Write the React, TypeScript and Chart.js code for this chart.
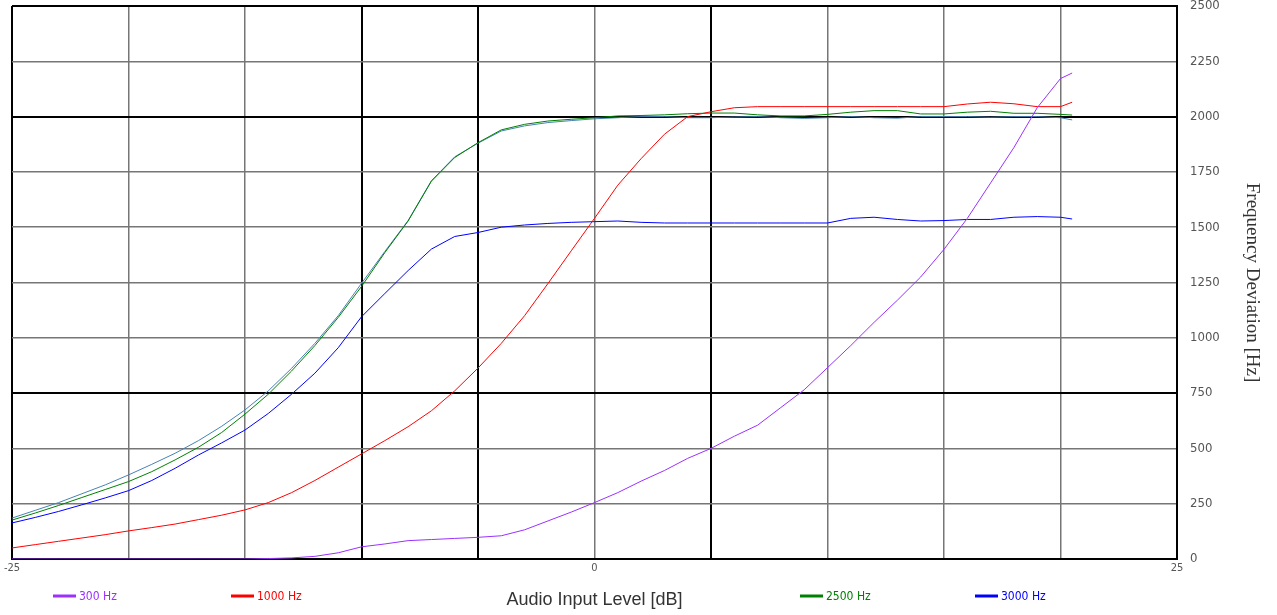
import { useEffect, useRef } from 'react';
import { Chart, registerables } from 'chart.js';

Chart.register(...registerables);

// Audio input level [dB] sample points
const inputLevelDb = [
  -25, -24, -23, -22, -21, -20, -19, -18, -17, -16, -15, -14, -13, -12, -11, -10,
  -9, -8, -7, -6, -5, -4, -3, -2, -1, 0, 1, 2, 3, 4, 5, 6, 7, 8, 9, 10,
  11, 12, 13, 14, 15, 16, 17, 18, 19, 20, 20.5,
];

// Frequency deviation [Hz]
const dev300Hz = [
  0, 0, 0, 0, 0, 0, 0, 0, 0, 0, 0, 2, 5, 12, 28, 55,
  68, 83, 88, 93, 98, 105, 132, 172, 212, 255, 300, 352, 400, 455, 500, 555, 605, 685, 765, 865,
  965, 1070, 1170, 1275, 1400, 1540, 1700, 1860, 2040, 2172, 2197,
];
const dev1000Hz = [
  50, 65, 80, 95, 110, 127, 142, 158, 178, 198, 222, 255, 300, 355, 415, 475,
  535, 598, 670, 760, 863, 975, 1100, 1245, 1393, 1540, 1690, 1810, 1920, 2000, 2022, 2040, 2045, 2045, 2045, 2045,
  2045, 2045, 2045, 2045, 2045, 2057, 2065, 2058, 2045, 2045, 2065,
];
const dev2500Hz = [
  176, 208, 242, 278, 314, 350, 395, 448, 505, 572, 655, 745, 850, 965, 1092, 1232,
  1385, 1528, 1708, 1815, 1882, 1940, 1965, 1980, 1988, 1995, 2003, 2005, 2008, 2013, 2016, 2016, 2008, 2003, 2003, 2010,
  2020, 2027, 2027, 2012, 2012, 2020, 2024, 2015, 2015, 2010, 2007,
];
const dev2500HzTrace2 = [
  185, 220, 255, 295, 335, 380, 428, 478, 535, 600, 674, 760, 862, 975, 1100, 1246,
  1390, 1530, 1710, 1818, 1880, 1935, 1958, 1973, 1982, 1990, 1995, 2000, 2000, 1995, 1995, 1998, 2000, 1995, 1992, 1995,
  2000, 1995, 1993, 2000, 2000, 2000, 1997, 2000, 2000, 1995, 1985,
];
const dev3000Hz = [
  163, 188, 215, 245, 276, 309, 355, 410, 470, 525, 583, 658, 745, 840, 955, 1095,
  1200, 1304, 1401, 1458, 1476, 1500, 1510, 1517, 1522, 1525, 1528, 1522, 1519, 1519, 1519, 1519, 1519, 1519, 1519, 1519,
  1540, 1545, 1535, 1528, 1530, 1535, 1535, 1545, 1548, 1545, 1537,
];

const seriesLabels = ['300 Hz', '1000 Hz', '2500 Hz', '3000 Hz'];
const seriesColors = ['#9b30ff', '#ff0000', '#008000', '#0000ff'];
const trace2Color = '#4682b4';

const xTickLabels = [-25, 0, 25];
const xBoldLines = [-25, -10, -5, 5, 25];
const yBoldLines = [0, 750, 2000, 2500];

const legendX = [53, 231, 800, 975];

const toPoints = (vals: number[]) => vals.map((v, i) => ({ x: inputLevelDb[i], y: v }));

const bottomLegend = {
  id: 'bottomLegend',
  afterDraw(chart: any) {
    const { ctx } = chart;
    const y = 596;
    ctx.save();
    chart.data.datasets.forEach((ds: any) => {
      if (!ds.label) return;
      const x = legendX[seriesLabels.indexOf(ds.label)];
      ctx.strokeStyle = ds.borderColor;
      ctx.lineWidth = 3;
      ctx.beginPath();
      ctx.moveTo(x, y);
      ctx.lineTo(x + 23, y);
      ctx.stroke();
      ctx.fillStyle = ds.borderColor;
      ctx.font = '12px "DejaVu Sans Condensed", "DejaVu Sans"';
      ctx.textAlign = 'left';
      ctx.textBaseline = 'middle';
      ctx.fillText(ds.label, x + 26, y + 1);
    });
    ctx.restore();
  },
};

export default function App() {
  const ref = useRef<HTMLCanvasElement>(null);
  useEffect(() => {
    document.body.style.margin = '0';
    const canvas = ref.current!;
    const lineDs = (label: string, vals: number[], color: string) => ({
      label,
      data: toPoints(vals),
      borderColor: color,
      backgroundColor: color,
      borderWidth: 1,
      pointRadius: 0,
      tension: 0,
      fill: false,
    });
    const chart = new Chart(canvas, {
      type: 'line',
      data: {
        datasets: [
          lineDs(seriesLabels[0], dev300Hz, seriesColors[0]),
          lineDs(seriesLabels[1], dev1000Hz, seriesColors[1]),
          lineDs(seriesLabels[3], dev3000Hz, seriesColors[3]),
          lineDs(seriesLabels[2], dev2500Hz, seriesColors[2]),
          lineDs('', dev2500HzTrace2, trace2Color),
        ],
      },
      options: {
        responsive: false,
        animation: false,
        layout: { padding: { left: 12, top: 6, right: 0, bottom: 0 } },
        plugins: { legend: { display: false }, tooltip: { enabled: false } },
        scales: {
          x: {
            type: 'linear',
            position: 'bottom',
            min: -25,
            max: 25,
            ticks: {
              stepSize: 5,
              autoSkip: false,
              maxRotation: 0,
              padding: 3,
              color: '#555',
              font: { family: 'DejaVu Sans Condensed', size: 11 },
              callback: (v: any) => (xTickLabels.includes(Number(v)) ? String(v) : ''),
            },
            grid: {
              drawTicks: false,
              color: (c: any) => (xBoldLines.includes(c.tick?.value) ? '#000' : '#767676'),
              lineWidth: (c: any) => (xBoldLines.includes(c.tick?.value) ? 2 : 1.5),
            },
            border: { color: '#000', width: 2 },
            title: {
              display: true,
              text: 'Audio Input Level [dB]',
              color: '#333',
              font: { family: 'Liberation Sans', size: 18 },
              padding: { top: 0, bottom: 4 },
            },
            afterFit: (s: any) => {
              s.height = 56;
              s.paddingLeft = 0;
              s.paddingRight = 0;
            },
          },
          y: {
            type: 'linear',
            position: 'right',
            min: 0,
            max: 2500,
            ticks: {
              stepSize: 250,
              padding: 13,
              color: '#555',
              font: { family: 'DejaVu Sans Condensed', size: 13 },
              callback: (v: any) => String(v),
            },
            grid: {
              drawTicks: false,
              color: (c: any) => (yBoldLines.includes(c.tick?.value) ? '#000' : '#767676'),
              lineWidth: (c: any) => (yBoldLines.includes(c.tick?.value) ? 2 : 1.5),
            },
            border: { color: '#000', width: 2 },
            title: {
              display: true,
              text: 'Frequency Deviation [Hz]',
              color: '#333',
              font: { family: 'Liberation Serif', size: 19 },
              padding: { top: 14, bottom: 0 },
            },
            afterFit: (s: any) => {
              s.width = 100;
              s.paddingTop = 0;
              s.paddingBottom = 0;
            },
          },
        },
      },
      plugins: [bottomLegend],
    });
    return () => chart.destroy();
  }, []);
  return (
    <div style={{ width: 1277, height: 615 }}>
      <canvas ref={ref} width={1277} height={615} style={{ display: 'block' }} />
    </div>
  );
}
